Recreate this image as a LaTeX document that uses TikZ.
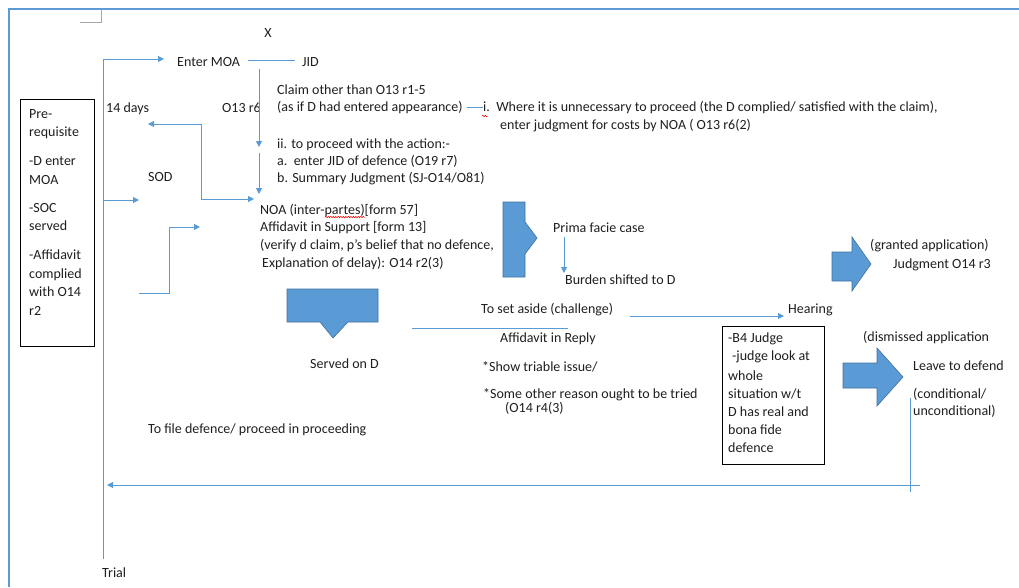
\documentclass[tikz,border=0pt]{standalone}
\usepackage{fontspec}
\setmainfont{Carlito}
\usetikzlibrary{arrows.meta,decorations.pathmorphing}
\definecolor{lblue}{HTML}{5B9BD5}
\definecolor{dblue}{HTML}{41719C}
\definecolor{tgray}{HTML}{1F1F1F}
\begin{document}
\begin{tikzpicture}[x=1pt,y=-1pt,
 txt/.style={font=\fontsize{14}{17}\selectfont, inner sep=0pt, anchor=base west, text=tgray},
 conn/.style={draw=lblue, line width=1pt},
 arr/.style={conn, -{Triangle[length=6pt,width=6pt]}},
 darr/.style={conn, {Triangle[length=6pt,width=6pt]}-{Triangle[length=6pt,width=6pt]}},
 blk/.style={fill=lblue, draw=dblue, line width=0.6pt},
 box/.style={draw=black, line width=0.8pt, inner sep=0pt, anchor=north west},
 squig/.style={draw=red, line width=0.5pt, decorate, decoration={snake, amplitude=0.7pt, segment length=2.5pt}}]
\useasboundingbox (0,0) rectangle (1019,587);
\fill[white] (0,0) rectangle (1019,587);
% frame and corner mark
\draw[lblue, line width=2.5pt] (9,587) -- (9,9) -- (1019,9);
\draw[gray!70, line width=0.8pt] (80,22) -- (101,22) -- (101,9);

% ---------- text ----------
\node[txt, anchor=base] (x) at (268,37) {X};
\node[txt] (moa) at (177,66) {Enter MOA};
\node[txt] (jid) at (302,66) {JID};
\node[txt] (d14) at (106,112) {14 days};
\node[txt] (o13) at (222,112) {O13 r6};
\node[txt] (claim1) at (277,94) {Claim other than O13 r1-5};
\node[txt] (claim2) at (277,111) {(as if D had entered appearance)};
\node[txt] (opt1) at (483,111) {i.\ \ Where it is unnecessary to proceed (the D complied/ satisfied with the claim),};
\node[txt] (opt1b) at (500,129) {enter judgment for costs by NOA ( O13 r6(2)};
\node[txt] (opt2) at (277,148) {ii. to proceed with the action:-};
\node[txt] (opt2a) at (277,165) {a.\ \ enter JID of defence (O19 r7)};
\node[txt] (opt2b) at (277,182) {b. Summary Judgment (SJ-O14/O81)};
\node[txt] (sod) at (148,181) {SOD};
\node[txt] (noa1) at (260,214) {NOA (inter-partes)[form 57]};
\node[txt] (noa2) at (260,231) {Affidavit in Support [form 13]};
\node[txt] (noa3) at (260,249) {(verify d claim, p’s belief that no defence,};
\node[txt] (noa4) at (262,267) {Explanation of delay): O14 r2(3)};
\node[txt] (prima) at (553,232) {Prima facie case};
\node[txt] (burden) at (565,284) {Burden shifted to D};
\node[txt] (granted) at (870,249) {(granted application)};
\node[txt] (judg) at (893,268) {Judgment O14 r3};
\node[txt] (setaside) at (481,313) {To set aside (challenge)};
\node[txt] (hearing) at (788,313) {Hearing};
\node[txt] (affrep) at (500,342) {Affidavit in Reply};
\node[txt] (show) at (482,371) {*Show triable issue/};
\node[txt] (some) at (483,398) {*Some other reason ought to be tried};
\node[txt] (o14r4) at (505,412) {(O14 r4(3)};
\node[txt] (served) at (310,368) {Served on D};
\node[txt] (dismissed) at (863,341) {(dismissed application};
\node[txt] (leave) at (913,370) {Leave to defend};
\node[txt] (cond1) at (913,398) {(conditional/};
\node[txt] (cond2) at (913,415) {unconditional)};
\node[txt] (tofile) at (148,433) {To file defence/ proceed in proceeding};
\node[txt] (trial) at (102,577) {Trial};

% spell-check squiggles
\draw[squig] (325,217) -- (365,217);
\draw[squig] (482,116) -- (488,116);

% ---------- pre-requisite box ----------
\node[box, minimum width=74pt, minimum height=247pt] (pre) at (20,99) {};
\node[txt] (p1) at (29,118) {Pre-};
\node[txt] (p2) at (29,136) {requisite};
\node[txt] (p3) at (29,165) {-D enter};
\node[txt] (p4) at (29,184) {MOA};
\node[txt] (p5) at (29,212) {-SOC};
\node[txt] (p6) at (29,230) {served};
\node[txt] (p7) at (29,259) {-Affidavit};
\node[txt] (p8) at (29,278) {complied};
\node[txt] (p9) at (29,296) {with O14};
\node[txt] (p10) at (29,315) {r2};

% ---------- judge box ----------
\node[box, minimum width=102pt, minimum height=138pt] (judge) at (722,326) {};
\node[txt] (j1) at (728,342) {-B4 Judge};
\node[txt] (j2) at (732,360) {-judge look at};
\node[txt] (j3) at (728,380) {whole};
\node[txt] (j4) at (728,398) {situation w/t};
\node[txt] (j5) at (728,416) {D has real and};
\node[txt] (j6) at (728,434) {bona fide};
\node[txt] (j7) at (728,452) {defence};

% ---------- block arrows ----------
\draw[blk] (503,202) -- (525,202) -- (525,222) -- (537,238) -- (525,254) -- (525,277) -- (503,277) -- cycle;
\draw[blk] (287,289) -- (378,289) -- (378,322) -- (348,322) -- (333,338) -- (320,322) -- (287,322) -- cycle;
\draw[blk] (832,252) -- (852,252) -- (852,237) -- (871,264) -- (852,291) -- (852,281) -- (832,281) -- cycle;
\draw[blk] (843,363) -- (877,363) -- (877,348) -- (903,377) -- (877,406) -- (877,388) -- (843,388) -- cycle;

% ---------- connectors ----------
\coordinate (v0) at (103,59);
\coordinate (vt) at (103,559);
\coordinate (moaIn) at (164,59);
\draw[conn] (v0) -- (vt);
\draw[arr] (v0) -- (moaIn);
\coordinate (mj1) at (248,60);
\coordinate (mj2) at (295,60);
\draw[conn] (mj1) -- (mj2);
\coordinate (dn1) at (259,69);
\coordinate (dn2) at (259,147);
\coordinate (dn3) at (259,153);
\coordinate (dn4) at (259,194);
\draw[arr] (dn1) -- (dn2);
\draw[arr] (dn3) -- (dn4);
\coordinate (sodL) at (148,124);
\coordinate (sodK) at (201,124);
\coordinate (sodR) at (254,199);
\draw[darr] (sodL) -- (sodK) |- (sodR);
\coordinate (s1) at (103,200);
\coordinate (s2) at (139,200);
\draw[arr] (s1) -- (s2);
\coordinate (t1) at (139,293);
\coordinate (t2) at (169,227);
\coordinate (t3) at (200,227);
\draw[arr] (t1) -| (t2) -- (t3);
\coordinate (c1) at (467,107);
\draw[conn] (c1) -- (opt1.west |- c1);
\coordinate (pf1) at (564,237);
\coordinate (pf2) at (564,273);
\draw[arr] (pf1) -- (pf2);
\coordinate (l1) at (412,328);
\coordinate (l2) at (568,328);
\draw[conn] (l1) -- (l2);
\coordinate (h1) at (630,316);
\coordinate (h2) at (784,316);
\draw[arr] (h1) -- (h2);
\coordinate (r1) at (910,398);
\coordinate (r2) at (910,492);
\draw[conn] (r1) -- (r2);
\coordinate (b1) at (920,485);
\coordinate (b2) at (107,485);
\draw[arr] (b1) -- (b2);
\end{tikzpicture}
\end{document}
